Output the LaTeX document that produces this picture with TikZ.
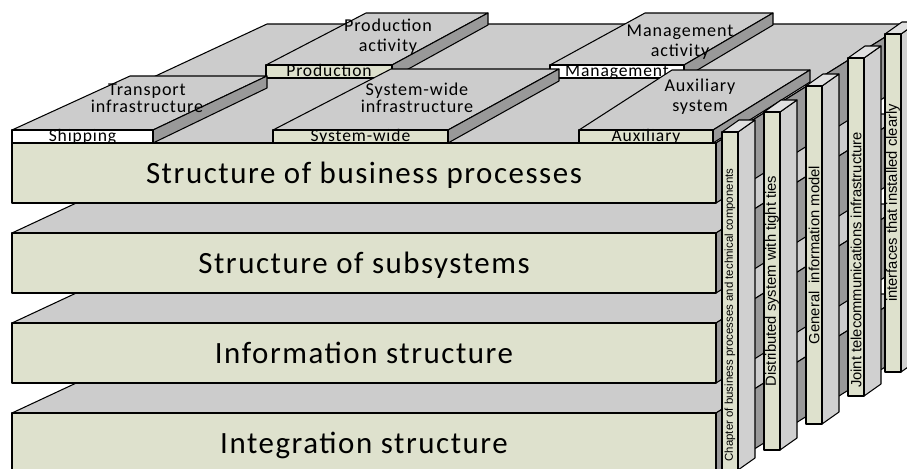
\documentclass[tikz,border=0pt]{standalone}
\usepackage{fontspec}
\setmainfont[LetterSpace=5]{Carlito}
\newfontfamily\colfont{Liberation Sans}

\definecolor{facegreen}{RGB}{222,225,205}
\definecolor{topgray}{RGB}{204,204,204}
\definecolor{sidegray}{RGB}{153,153,153}
\definecolor{colgray}{RGB}{208,208,208}
\definecolor{captop}{RGB}{224,224,224}

\begin{document}
\begin{tikzpicture}[
  x=0.02cm, y=-0.02cm,
  line width=0.6pt, line join=round,
  face/.style={draw, fill=facegreen},
  topface/.style={draw, fill=topgray},
  sideface/.style={draw, fill=sidegray},
  colside/.style={draw, fill=colgray},
  coltop/.style={draw, fill=captop},
  layer/.style={font=\fontsize{17.6}{21}\selectfont, inner sep=0pt, anchor=base},
  lbl/.style={font=\fontsize{10}{12}\selectfont, inner sep=0pt, anchor=base},
  toplbl/.style={inner sep=0pt, align=center},
  coltext/.style={rotate=90, inner sep=0pt}
]
\useasboundingbox (0,0) rectangle (907,468);
\fill[white] (0,0) rectangle (907,468);
\clip (0,0) rectangle (907,468);

% Layers, bottom one first
\foreach \yt/\txt [count=\i] in {413/Integration structure, 323/Information structure,
    233/Structure of subsystems, 143/Structure of business processes} {
  \filldraw[topface] (12,\yt) -- (267,\yt-119) -- (906,\yt-119) -- (716,\yt) -- cycle;
  \filldraw[sideface] (716,\yt) -- (906,\yt-119) -- (906,\yt-59) -- (716,\yt+60) -- cycle;
  \filldraw[face] (12,\yt) rectangle (716,\yt+60);
  \node[layer] (layer\i) at (364,\yt+40) {\txt};
}

% Blocks on the top layer, back row first
\foreach \xa/\xb/\yf/\ba/\bb/\yb/\col/\name/\txt in {
    266/392/65/366/488/13/facegreen/prod/Production,
    550/684/65/645/773/13/white/mgmt/Management,
    12/153/130/130/267/76/white/ship/Shipping,
    273/448/130/391/559/69/facegreen/sysw/System-wide,
    579/713/130/672/810/70/facegreen/aux/Auxiliary} {
  \filldraw[topface] (\xa,\yf) -- (\ba,\yb) -- (\bb,\yb) -- (\xb,\yf) -- cycle;
  \filldraw[sideface] (\xb,\yf) -- (\bb,\yb) -- (\bb,\yb+12) -- (\xb,\yf+13) -- cycle;
  \filldraw[draw, fill=\col] (\xa,\yf) rectangle (\xb,\yf+13);
  \node[lbl] (\name) at ({(\xa+\xb)/2},\yf+11.5) {\txt};
}

% Texts on the block tops
\node[toplbl, font=\fontsize{10.3}{11.3}\selectfont] (prodtop) at (388,37) {Production\\activity};
\node[toplbl, font=\fontsize{10.3}{11.3}\selectfont] (mgmttop) at (680,42) {Management\\activity};
\node[toplbl, font=\fontsize{10.3}{8.5}\selectfont] (shiptop) at (147,98) {Transport\\infrastructure};
\node[toplbl, font=\fontsize{10.3}{8.5}\selectfont] (syswtop) at (417,98) {System-wide\\infrastructure};
\node[toplbl, font=\fontsize{10.3}{11.3}\selectfont] (auxtop) at (700,97) {Auxiliary\\system};

% Columns on the right, back one first
\foreach \x/\y/\ty/\fs/\txt [count=\i] in {
    885/34/203/8.4/interfaces that installed clearly,
    848/58/260/8.4/Joint telecommunications infrastructure,
    806/86/255/8.4/General~~information model,
    764/112/281/8.4/Distributed system with tight ties,
    722/132/315/6.5/Chapter of business processes and technical components} {
  \filldraw[colside] (\x+16,\y) -- (\x+33,\y-12) -- (\x+33,\y+326) -- (\x+16,\y+338) -- cycle;
  \filldraw[coltop] (\x,\y) -- (\x+17,\y-12) -- (\x+33,\y-12) -- (\x+16,\y) -- cycle;
  \filldraw[face] (\x,\y) rectangle (\x+16,\y+338);
  \node[coltext, font=\colfont\fontsize{\fs}{\fs}\selectfont] (col\i) at (\x+8,\ty) {\txt};
}

\end{tikzpicture}
\end{document}
